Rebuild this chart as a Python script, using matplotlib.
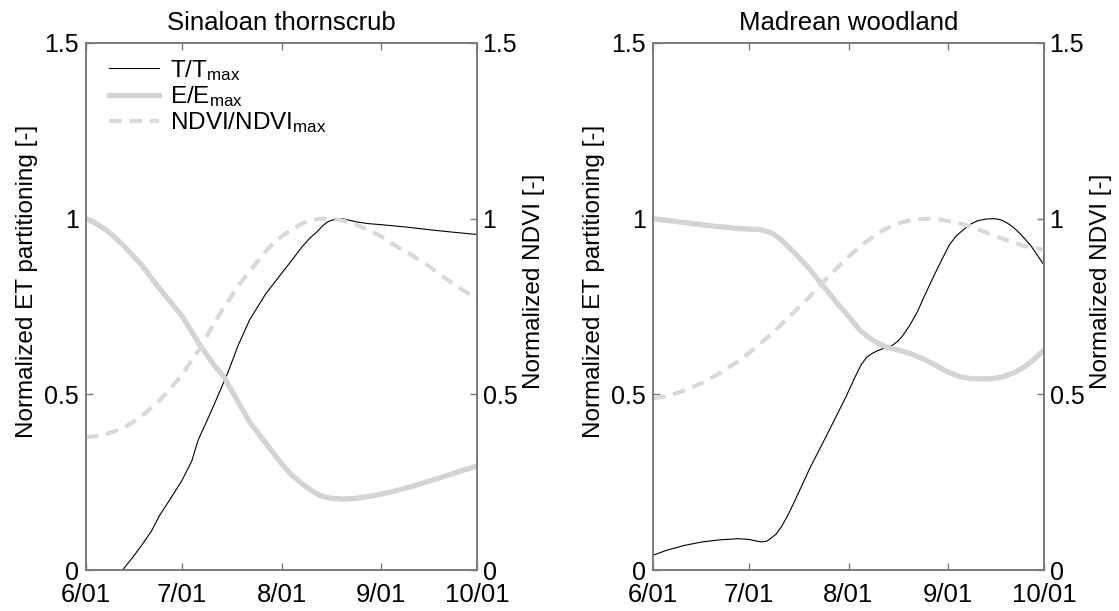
import numpy as np
import matplotlib
matplotlib.use("Agg")
import matplotlib.pyplot as plt
from matplotlib import font_manager

plt.rcParams['font.family'] = ['Liberation Sans', 'DejaVu Sans']
plt.rcParams['mathtext.default'] = 'regular'

# tick numbers use the condensed face when it is there
names = {f.name for f in font_manager.fontManager.ttflist}
tick_font = 'Liberation Sans Narrow' if 'Liberation Sans Narrow' in names else 'Liberation Sans'

# days since 6/01
tick_days = [0, 30, 61, 92, 122]
tick_labels = ['6/01', '7/01', '8/01', '9/01', '10/01']

# Sinaloan thornscrub
st_t_day = [6, 11.4, 14.5, 17.5, 20.5, 23, 26.5, 30, 33, 35, 37.5, 39.8, 43, 44.2, 47.5, 51,
            56, 61, 64.5, 67.6, 70, 72, 74, 75.4, 77.5, 79.9, 82, 84.3, 88, 92, 100,
            106.6, 114, 122]
st_t = [-0.06, 0.0, 0.035, 0.072, 0.112, 0.156, 0.205, 0.256, 0.31, 0.37, 0.42, 0.467,
        0.535, 0.56, 0.64, 0.711, 0.785, 0.844, 0.885, 0.922, 0.946, 0.962, 0.981, 0.991,
        0.998, 1.0, 0.996, 0.991, 0.986, 0.983, 0.976, 0.969, 0.962, 0.955]
st_e_day = [0, 3, 6.4, 9, 11.9, 14.5, 17.5, 20, 23, 26.5, 30, 33, 35.3, 37.5, 39.8, 43,
            44.2, 47.5, 51, 54, 56.5, 59, 61, 64, 67.6, 70.5, 73.2, 76.5, 79.9, 84.3, 88,
            92, 96, 101, 106, 112, 117, 122]
st_e = [1.0, 0.987, 0.967, 0.947, 0.922, 0.896, 0.867, 0.836, 0.8, 0.762, 0.722, 0.678,
        0.644, 0.615, 0.585, 0.55, 0.53, 0.478, 0.422, 0.386, 0.356, 0.326, 0.303, 0.272,
        0.244, 0.225, 0.211, 0.204, 0.202, 0.204, 0.209, 0.216, 0.224, 0.236, 0.25, 0.267,
        0.282, 0.296]
st_n_day = [0, 3, 6.4, 9, 11.9, 14.5, 17.5, 20, 23, 26.5, 30, 33, 35.3, 37.5, 39.8, 42.5,
            45.3, 48, 51, 54, 56.5, 59, 62, 65, 67.6, 70.5, 73.2, 76, 78.8, 81.5, 84.3, 88,
            92, 96, 101, 106.6, 112, 117, 122]
st_n = [0.378, 0.381, 0.387, 0.395, 0.406, 0.42, 0.439, 0.459, 0.483, 0.518, 0.556, 0.597,
        0.628, 0.662, 0.70, 0.74, 0.778, 0.815, 0.85, 0.883, 0.911, 0.935, 0.956, 0.974,
        0.987, 0.996, 1.0, 1.0, 0.997, 0.991, 0.983, 0.968, 0.95, 0.926, 0.90, 0.867,
        0.831, 0.80, 0.772]

# Madrean woodland
mw_t_day = [0, 4.2, 9.8, 15.4, 21, 26.6, 30, 32, 33.8, 35.5, 36.6, 38.5, 40, 42.2, 44.4,
            48.9, 54.5, 60, 63.4, 65, 66.7, 68.5, 70, 72, 74.6, 76.5, 77.9, 80, 82.4, 85,
            88, 90.5, 92.4, 94.5, 96.9, 99, 101.3, 104, 106.4, 108.5, 110.3, 112.5, 114.7,
            118, 122]
mw_t = [0.042, 0.056, 0.07, 0.08, 0.086, 0.089, 0.087, 0.083, 0.080, 0.082, 0.089, 0.103,
        0.122, 0.158, 0.20, 0.289, 0.389, 0.489, 0.556, 0.585, 0.606, 0.617, 0.624, 0.631,
        0.639, 0.652, 0.667, 0.695, 0.733, 0.786, 0.844, 0.89, 0.924, 0.95, 0.969, 0.984,
        0.994, 0.999, 1.0, 0.997, 0.989, 0.975, 0.956, 0.922, 0.868]
mw_e_day = [0, 9.8, 17.6, 26.6, 30, 33.3, 35.5, 37.7, 40.5, 43.3, 46, 48.9, 51.5, 54.5,
            57, 60, 62.5, 64.5, 67, 69, 71, 73.4, 77, 80.1, 84.6, 87.5, 90.2, 93, 95.8, 99,
            102.5, 106, 109.2, 112.5, 115.9, 119, 122]
mw_e = [1.0, 0.989, 0.98, 0.972, 0.970, 0.969, 0.964, 0.956, 0.936, 0.911, 0.885, 0.856,
        0.826, 0.794, 0.764, 0.733, 0.705, 0.683, 0.664, 0.652, 0.642, 0.633, 0.625, 0.617,
        0.60, 0.586, 0.572, 0.56, 0.55, 0.545, 0.544, 0.545, 0.55, 0.561, 0.578, 0.6, 0.626]
mw_n_day = [0, 4.2, 9.8, 15.4, 21, 26.6, 32.1, 37.7, 43.3, 48.9, 54.5, 60, 62.8, 65.6,
            68.4, 71.2, 74, 76.8, 79.6, 82.4, 86.8, 90, 93.5, 99.1, 104.7, 110.3, 115.9, 122]
mw_n = [0.489, 0.494, 0.511, 0.533, 0.561, 0.594, 0.633, 0.678, 0.728, 0.778, 0.833,
        0.883, 0.906, 0.928, 0.947, 0.964, 0.977, 0.987, 0.994, 0.998, 1.0, 0.997, 0.991,
        0.978, 0.958, 0.939, 0.922, 0.912]

sites = [
    ("Sinaloan thornscrub", st_t_day, st_t, st_e_day, st_e, st_n_day, st_n),
    ("Madrean woodland", mw_t_day, mw_t, mw_e_day, mw_e, mw_n_day, mw_n),
]

spine_col = '#7a7a7a'
fig = plt.figure(figsize=(11.19, 6.11), dpi=100)
lefts = [86 / 1119, 653 / 1119]

for i, (name, td, t, ed, e, nd, n) in enumerate(sites):
    ax = fig.add_axes([lefts[i], 41 / 611, 391 / 1119, 527 / 611])
    ax2 = ax.twinx()
    l1, = ax.plot(td, t, color='black', lw=0.8, label='T/T$_{max}$')
    l2, = ax.plot(ed, e, color='#d4d4d4', lw=3.8, label='E/E$_{max}$')
    l3, = ax2.plot(nd, n, color='#d9d9d9', lw=3.0, ls=(0, (3.0, 1.9)),
                   label='NDVI/NDVI$_{max}$')

    for a in (ax, ax2):
        a.set_xlim(0, 122)
        a.set_ylim(0, 1.5)
        a.set_yticks([0, 0.5, 1, 1.5])
        a.set_yticklabels(['0', '0.5', '1', '1.5'])
        for s in a.spines.values():
            s.set_color(spine_col)
            s.set_linewidth(1.2)
    ax.set_xticks(tick_days)
    ax.set_xticklabels(tick_labels)
    ax.tick_params(axis='x', direction='in', length=5, width=1, color=spine_col,
                   top=True, labelsize=18.5, pad=9)
    ax.tick_params(axis='y', direction='in', length=5, width=1, color=spine_col,
                   labelsize=18, pad=5)
    ax2.tick_params(axis='y', direction='in', length=5, width=1, color=spine_col,
                    labelsize=18, pad=4)
    for lab in ax.get_xticklabels() + ax.get_yticklabels() + ax2.get_yticklabels():
        lab.set_fontfamily([tick_font, 'DejaVu Sans'])

    ax.set_title(name, fontsize=18.5, pad=9)
    x0 = lefts[i] * 1119
    fig.text((x0 - 59) / 1119, 1 - 281 / 611, 'Normalized ET partitioning [-]',
             rotation=90, ha='center', va='center', fontsize=17.5)
    fig.text((x0 + 448) / 1119, 1 - 281 / 611, 'Normalized NDVI [-]',
             rotation=90, ha='center', va='center', fontsize=17.5)

    if i == 0:
        ax.legend(handles=[l1, l2, l3], loc='upper left', frameon=False, fontsize=17.5,
                  handlelength=2.05, handletextpad=0.45, labelspacing=0.05,
                  borderaxespad=0.0, bbox_to_anchor=(0.035, 0.99))

fig.savefig('out.png', dpi=100, facecolor='white')
